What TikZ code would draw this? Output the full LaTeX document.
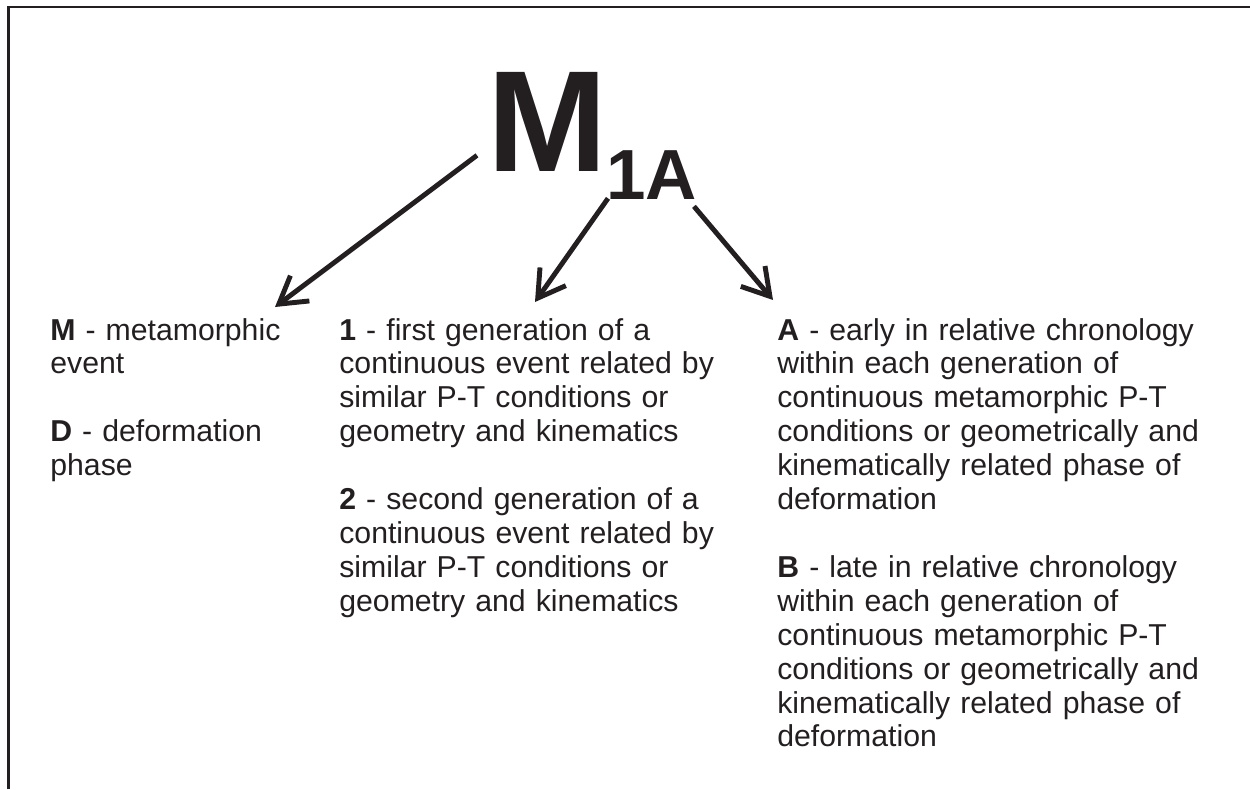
\documentclass[tikz,border=0pt]{standalone}
\usepackage{fontspec}
\setmainfont{Liberation Sans}
\usetikzlibrary{arrows.meta,positioning}
\definecolor{ink}{RGB}{35,31,32}

\begin{document}
\begin{tikzpicture}[x=0.02cm,y=0.02cm,
    pointer/.style={draw=ink, line width=2.8pt, -{Straight Barb[length=15pt,width=18pt]}},
    legend/.style={anchor=base west, inner sep=0pt, align=left, text=ink,
      font=\fontsize{17.2pt}{19.3pt}\selectfont}]
  \useasboundingbox (0,0) rectangle (1250,789);
  \draw [ink, line width=1.4pt] (8.7,0) -- (8.7,782) -- (1250,782);

  % symbol
  \node [anchor=base west, inner sep=0pt, text=ink, font=\fontsize{82pt}{82pt}\selectfont\bfseries] (m) at (487.5,618) {M};
  \node [anchor=base west, inner sep=0pt, text=ink, font=\fontsize{40.4pt}{40pt}\selectfont\bfseries] (sub) at (606,590) {1A};

  % explanations
  \node [legend, text width=5.4cm] (event) at (50,449)
    {\textbf{M} - metamorphic\\ event\\[19.3pt]
     \textbf{D} - deformation\\ phase};
  \node [legend, text width=8.2cm] (gen) at (339,449)
    {\textbf{1} - first generation of a\\ continuous event related by\\ similar P-T conditions or\\ geometry and kinematics\\[19.3pt]
     \textbf{2} - second generation of a\\ continuous event related by\\ similar P-T conditions or\\ geometry and kinematics};
  \node [legend, text width=9.2cm] (chron) at (777,449)
    {\textbf{A} - early in relative chronology\\ within each generation of\\ continuous metamorphic P-T\\ conditions or geometrically and\\ kinematically related phase of\\ deformation\\[19.3pt]
     \textbf{B} - late in relative chronology\\ within each generation of\\ continuous metamorphic P-T\\ conditions or geometrically and\\ kinematically related phase of\\ deformation};

  \coordinate (tipevent) at (275,482);
  \coordinate (tipgen) at (535,487);
  \coordinate (tipchron) at (773,489);

  \draw [pointer] ([shift={(-10.5,16)}]m.south west) -- (tipevent);
  \draw [pointer] ([shift={(2,1)}]sub.south west) -- (tipgen);
  \draw [pointer] ([shift={(-3.5,-7)}]sub.south east) -- (tipchron);
\end{tikzpicture}
\end{document}
